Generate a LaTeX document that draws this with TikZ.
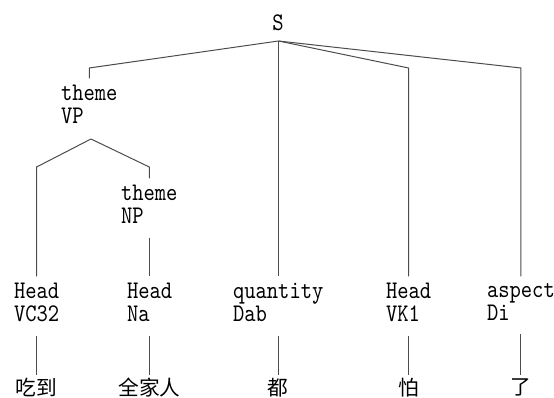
\documentclass[tikz,border=0pt]{standalone}
\usepackage{fontspec}
\newfontfamily\treefont[FakeStretch=0.85]{lmmono10-regular.otf}
\newfontfamily\cjkfont{Noto Sans CJK SC}
\begin{document}
\begin{tikzpicture}[x=0.75pt, y=-0.75pt,
    tag/.style={font=\treefont\fontsize{19}{17.5}\selectfont, align=left, inner sep=0pt, outer sep=0pt, anchor=north west},
    word/.style={font=\cjkfont\fontsize{15.5}{15.5}\selectfont, inner sep=0pt, anchor=north},
    branch/.style={draw=black!70, line width=0.75pt, shorten >=5pt},
    leaf/.style={draw=black!70, line width=0.75pt, shorten <=10.5pt, shorten >=2.5pt}]
  \useasboundingbox (0,0) rectangle (554,398);

  \coordinate (row1) at (0,68);
  \coordinate (row2) at (0,167);
  \coordinate (leafrow) at (0,378);

  \node [tag, anchor=north] (S) at (278,15) {S};
  \coordinate (Sfork) at (278.5,41);

  \node [tag] (VP) at (61,85) {theme\\VP};
  \coordinate (VPfork) at (91,139);
  \node [tag] (NP) at (121,185) {theme\\NP};

  \node [tag] (VC32) at (14,283) {Head\\VC32};
  \node [tag] (Na) at (127,283) {Head\\Na};
  \node [tag] (Dab) at (233,283) {quantity\\Dab};
  \node [tag] (VK1) at (386,283) {Head\\VK1};
  \node [tag] (Di) at (487,283) {aspect\\Di};

  \node [word] (chidao) at (VC32.south |- leafrow) {吃到};
  \node [word] (quanjiaren) at (Na.south |- leafrow) {全家人};
  \node [word] (dou) at (Dab.south |- leafrow) {都};
  \node [word] (pa) at (VK1.south |- leafrow) {怕};
  \node [word] (le) at (Di.south |- leafrow) {了};

  \draw [branch] (Sfork) -- (VP.north |- row1) -- (VP.north);
  \draw [branch] (Sfork) -- (Sfork |- Dab.north);
  \draw [branch] (Sfork) -- (VK1.north |- row1) -- (VK1.north);
  \draw [branch] (Sfork) -- (Di.north |- row1) -- (Di.north);

  \draw [branch] (VPfork) -- (VC32.north |- row2) -- (VC32.north);
  \draw [branch] (VPfork) -- (NP.north |- row2) -- (NP.north);
  \draw [branch, shorten <=10.5pt] (NP.south) -- (NP.south |- Na.north);

  \draw [leaf] (VC32.south) -- (chidao.north);
  \draw [leaf] (Na.south) -- (quanjiaren.north);
  \draw [leaf] (Dab.south) -- (dou.north);
  \draw [leaf] (VK1.south) -- (pa.north);
  \draw [leaf] (Di.south) -- (le.north);
\end{tikzpicture}
\end{document}
